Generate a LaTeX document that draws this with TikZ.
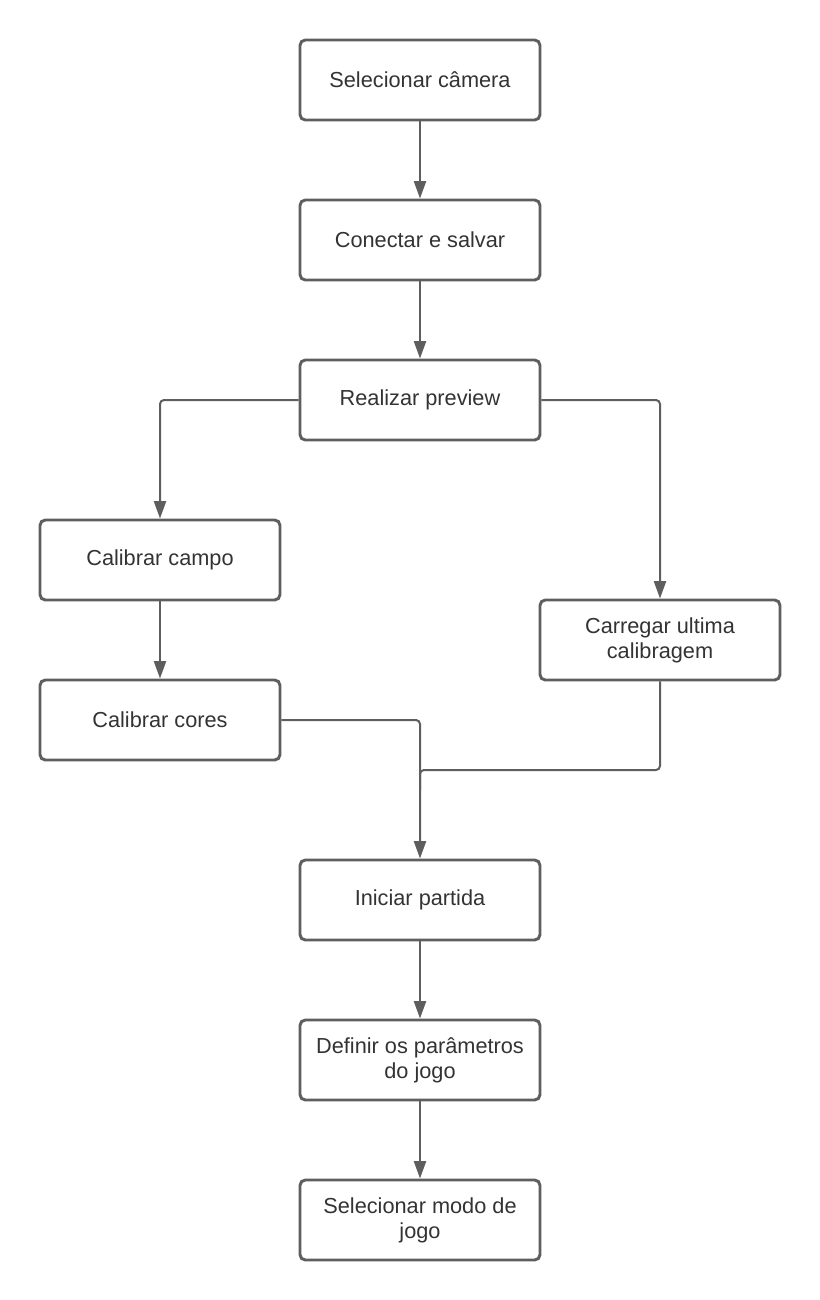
\documentclass[tikz,border=0pt]{standalone}
\usepackage{fontspec}
\setmainfont{Liberation Sans}
\usetikzlibrary{arrows.meta}
\definecolor{lc}{HTML}{5E5E5E}
\definecolor{tc}{HTML}{333333}
\begin{document}
\begin{tikzpicture}[x=0.75pt,y=-0.75pt,
  box/.style={draw=lc, line width=2.2pt, rounded corners=4pt, minimum width=180pt, minimum height=60pt,
    inner sep=0pt, text=tc, align=center, font=\fontsize{16.3pt}{18.75pt}\selectfont},
  conn/.style={draw=lc, line width=1.5pt, rounded corners=3pt, -{Triangle[width=9pt,length=13pt]}},
  plain/.style={draw=lc, line width=1.5pt, rounded corners=3pt}]
\useasboundingbox (0,0) rectangle (820,1300);
\node[box] (n1) at (420,80) {Selecionar câmera};
\node[box] (n2) at (420,240) {Conectar e salvar};
\node[box] (n3) at (420,400) {Realizar preview};
\node[box] (n4) at (160,560) {Calibrar campo};
\node[box] (n5) at (660,640) {Carregar ultima\\calibragem};
\node[box] (n6) at (160,720) {Calibrar cores};
\node[box] (n7) at (420,900) {Iniciar partida};
\node[box] (n8) at (420,1060) {Definir os parâmetros\\do jogo};
\node[box] (n9) at (420,1220) {Selecionar modo de\\jogo};
\coordinate (j) at (420,770);
\coordinate (j2) at (420,790);
\draw[conn] (n1) -- (n2);
\draw[conn] (n2) -- (n3);
\draw[conn] (n3.west) -| (n4.north);
\draw[conn] (n3.east) -| (n5.north);
\draw[conn] (n4) -- (n6);
\draw[conn] (n6.east) -| (n7.north);
\draw[plain] (n5.south) |- (j) -- (j2);
\draw[conn] (n7) -- (n8);
\draw[conn] (n8) -- (n9);
\end{tikzpicture}
\end{document}
